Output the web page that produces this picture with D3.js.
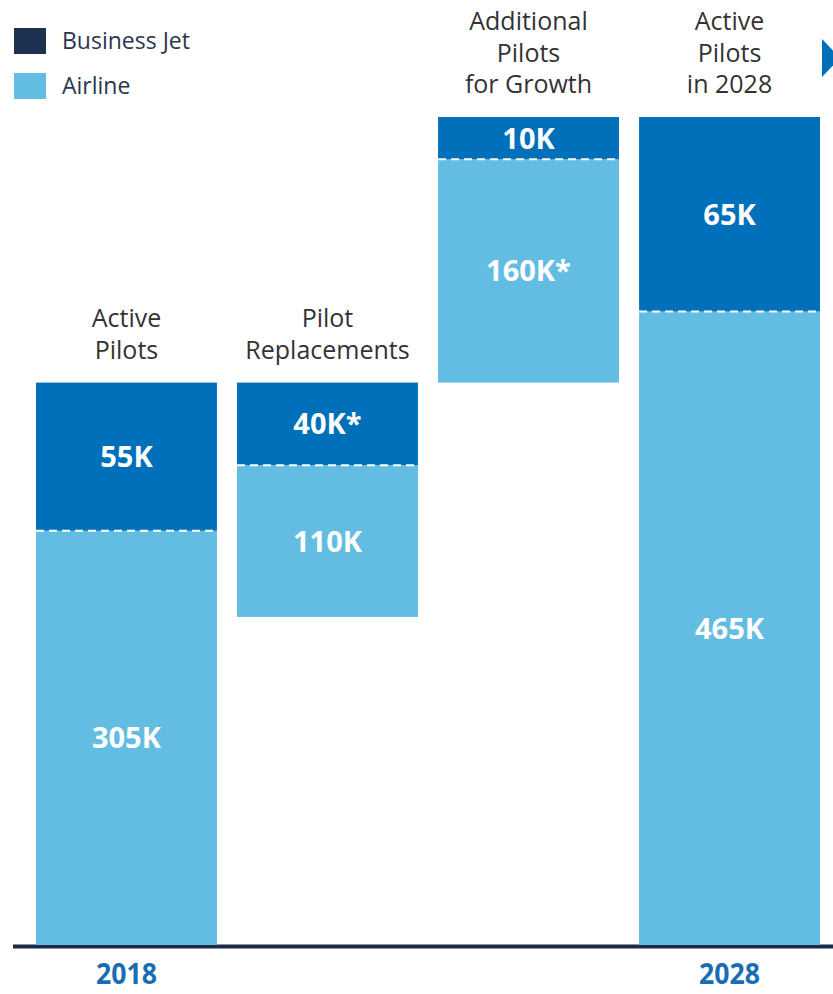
<!DOCTYPE html>
<html>
<head>
<meta charset="utf-8">
<script src="https://cdn.jsdelivr.net/npm/d3@7"></script>
<style>
    html, body { margin: 0; padding: 0; background: #fff; }
    svg { display: block; font-family: "Open Sans", "Noto Sans", sans-serif; }
</style>
</head>
<body>
<svg id="chart" width="833" height="994"></svg>
<script>
// データ
const stageLines = [
    ['Active', 'Pilots'],
    ['Pilot', 'Replacements'],
    ['Additional', 'Pilots', 'for Growth'],
    ['Active', 'Pilots', 'in 2028']
];
const stageKinds = ['total', 'replace', 'add', 'total'];
const businessJet = [55, 40, 10, 65];
const airline = [305, 110, 160, 465];
const businessJetLabels = ['55K', '40K*', '10K', '65K'];
const airlineLabels = ['305K', '110K', '160K*', '465K'];
const yearLabels = ['2018', '', '', '2028'];
const legendItems = ['Business Jet', 'Airline'];

const colors = {
    businessJet: '#0070bb',
    airline: '#63bde2',
    legendJet: '#1f3152',
    axis: '#1b2a48',
    year: '#1a6db5',
    text: '#333333'
};

const svg = d3.select('#chart');
const width = 833;
const baseline = 945;

// 各バーの開始値(ウォーターフォール)
const totals = businessJet.map((d, i) => d + airline[i]);
const bases = [];
stageKinds.forEach((kind, i) => {
    if (kind === 'total') bases.push(0);
    else if (kind === 'replace') bases.push(totals[i - 1] - totals[i]);
    else bases.push(totals[0]);
});

const x = d3.scaleBand()
    .domain(d3.range(stageLines.length))
    .range([36, 820])
    .paddingInner(0.1)
    .paddingOuter(0);

const y = d3.scaleLinear()
    .domain([0, d3.max(totals.map((t, i) => t + bases[i]))])
    .range([baseline, 117]);

// 内訳の表示比率(小さい区分を見やすく)
const share = d3.scalePow().exponent(0.6).domain([0, 1]).range([0, 1]);

const bars = totals.map((t, i) => {
    const top = y(bases[i] + t);
    const bottom = y(bases[i]);
    const a = share(businessJet[i] / 1000), b = share(airline[i] / 1000);
    const split = top + (bottom - top) * a / (a + b);
    return { i, top, bottom, split };
});

// 軸線
svg.append('line')
    .attr('x1', 13).attr('x2', width)
    .attr('y1', baseline + 1.5).attr('y2', baseline + 1.5)
    .attr('stroke', colors.axis)
    .attr('stroke-width', 4);

const g = svg.append('g');

// Airline
g.selectAll('rect.airline')
    .data(bars)
    .enter().append('rect')
    .attr('class', 'airline')
    .attr('x', d => x(d.i))
    .attr('width', x.bandwidth())
    .attr('y', d => d.split)
    .attr('height', d => d.bottom - d.split)
    .attr('fill', colors.airline);

// Business Jet
g.selectAll('rect.jet')
    .data(bars)
    .enter().append('rect')
    .attr('class', 'jet')
    .attr('x', d => x(d.i))
    .attr('width', x.bandwidth())
    .attr('y', d => d.top)
    .attr('height', d => d.split - d.top)
    .attr('fill', colors.businessJet);

// 区切りの点線
g.selectAll('line.split')
    .data(bars)
    .enter().append('line')
    .attr('x1', d => x(d.i))
    .attr('x2', d => x(d.i) + x.bandwidth())
    .attr('y1', d => d.split)
    .attr('y2', d => d.split)
    .attr('stroke', '#ffffff')
    .attr('stroke-width', 2)
    .attr('stroke-dasharray', '8 5');

// 値ラベル
const valueText = (sel, yFn, labels) => sel
    .data(bars)
    .enter().append('text')
    .attr('x', d => x(d.i) + x.bandwidth() / 2)
    .attr('y', yFn)
    .attr('dy', '0.36em')
    .attr('text-anchor', 'middle')
    .attr('fill', '#ffffff')
    .attr('font-size', 29)
    .attr('font-weight', 700)
    .text(d => labels[d.i]);

valueText(g.selectAll('text.jet'), d => (d.top + d.split) / 2, businessJetLabels);
valueText(g.selectAll('text.air'), d => (d.split + d.bottom) / 2, airlineLabels);

// カテゴリラベル
bars.forEach(d => {
    const lines = stageLines[d.i];
    const t = svg.append('text')
        .attr('text-anchor', 'middle')
        .attr('fill', colors.text)
        .attr('font-size', 25);
    lines.forEach((line, k) => {
        t.append('tspan')
            .attr('x', x(d.i) + x.bandwidth() / 2)
            .attr('y', d.top - 24 - (lines.length - 1 - k) * 31.5)
            .text(line);
    });
});

// 年ラベル
svg.selectAll('text.year')
    .data(yearLabels)
    .enter().append('text')
    .attr('transform', (d, i) => `translate(${x(i) + x.bandwidth() / 2},984) scale(0.92,1)`)
    .attr('text-anchor', 'middle')
    .attr('fill', colors.year)
    .attr('font-size', 29)
    .attr('font-weight', 700)
    .text(d => d);

// 凡例
const legend = svg.append('g');
legendItems.forEach((name, i) => {
    legend.append('rect')
        .attr('x', 14)
        .attr('y', 28 + i * 45)
        .attr('width', 32)
        .attr('height', 26)
        .attr('fill', i === 0 ? colors.legendJet : colors.airline);
    legend.append('text')
        .attr('x', 62)
        .attr('y', 41 + i * 45)
        .attr('dy', '0.36em')
        .attr('fill', '#2b3650')
        .attr('font-size', 23)
        .text(name);
});

// 右上の矢印
svg.append('path')
    .attr('d', d3.line()([[822, 39], [840, 58], [822, 77]]))
    .attr('fill', colors.businessJet);
</script>
</body>
</html>
